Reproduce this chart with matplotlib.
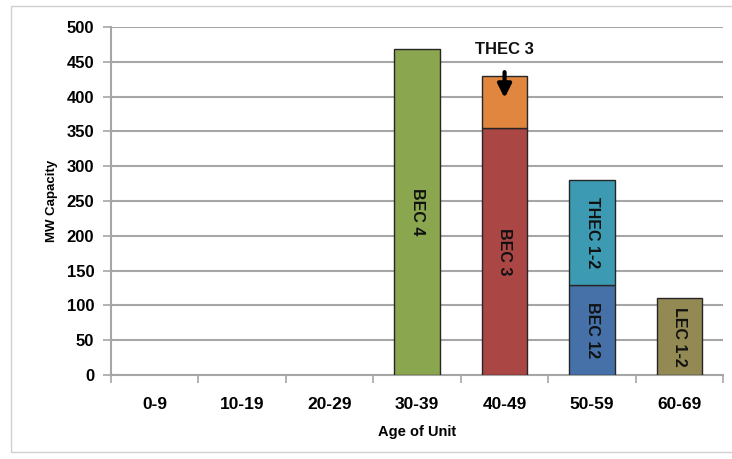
import numpy as np
import matplotlib.pyplot as plt
from matplotlib.patches import Rectangle

plt.rcParams['font.family'] = ['Liberation Sans', 'DejaVu Sans']

ages = ['0-9', '10-19', '20-29', '30-39', '40-49', '50-59', '60-69']

# stacked segments: (category index, bottom, height, label, color)
seg_cat = [3, 4, 4, 5, 5, 6]
seg_bottom = [0, 0, 355, 0, 130, 0]
seg_height = [468, 355, 75, 130, 150, 110]
seg_label = ['BEC 4', 'BEC 3', '', 'BEC 12', 'THEC 1-2', 'LEC 1-2']
seg_color = ['#8aa64e', '#aa4644', '#e0863f', '#4571a8', '#3c9bb3', '#938953']

fig = plt.figure(figsize=(7.32, 4.59), dpi=100)
ax = fig.add_axes([0.1516, 0.183, 0.8364, 0.758])

# outer frame
fig.patches.append(Rectangle((11/732, 7/459), 730/732, 446/459, transform=fig.transFigure,
                             fill=False, edgecolor='#d0d0d0', linewidth=1))

ax.set_ylim(0, 500)
ax.set_xlim(-0.5, 6.5)
ax.set_yticks(np.arange(0, 501, 50))
ax.yaxis.grid(True, color='#a6a6a6', linewidth=1.5)
ax.set_axisbelow(True)

for c, b, h, lab, col in zip(seg_cat, seg_bottom, seg_height, seg_label, seg_color):
    ax.bar(c, h, bottom=b, width=0.52, color=col, edgecolor='#262626', linewidth=1, zorder=3)
    if lab:
        ax.text(c, b + h/2, lab, rotation=-90, ha='center', va='center',
                fontsize=11.5, fontweight='bold', color='#111111', zorder=4)

ax.annotate('THEC 3', xy=(4, 398), xytext=(4, 468), ha='center', va='center',
            fontsize=12, fontweight='bold', color='#111111',
            arrowprops=dict(arrowstyle='-|>', color='black', lw=3, mutation_scale=20,
                            shrinkA=9, shrinkB=0), zorder=5)

ax.set_xticks(range(len(ages)))
ax.set_xticklabels(ages, fontsize=12.5, fontweight='bold')
ax.set_xticks(np.arange(-0.5, 7, 1), minor=True)
ax.tick_params(axis='x', which='major', length=0, pad=16)
ax.tick_params(axis='x', which='minor', length=6, color='#a6a6a6', width=1.2)
ax.tick_params(axis='y', length=6, color='#a6a6a6', width=1.2, labelsize=12, pad=6)
for t in ax.get_yticklabels():
    t.set_fontweight('bold')

for s in ['top', 'right']:
    ax.spines[s].set_visible(False)
for s in ['left', 'bottom']:
    ax.spines[s].set_color('#a6a6a6')
    ax.spines[s].set_linewidth(1.5)

ax.set_xlabel('Age of Unit', fontsize=10.5, fontweight='bold', labelpad=9)
ax.set_ylabel('MW Capacity', fontsize=9.5, fontweight='bold', labelpad=6)

fig.savefig('out.png', dpi=100)
